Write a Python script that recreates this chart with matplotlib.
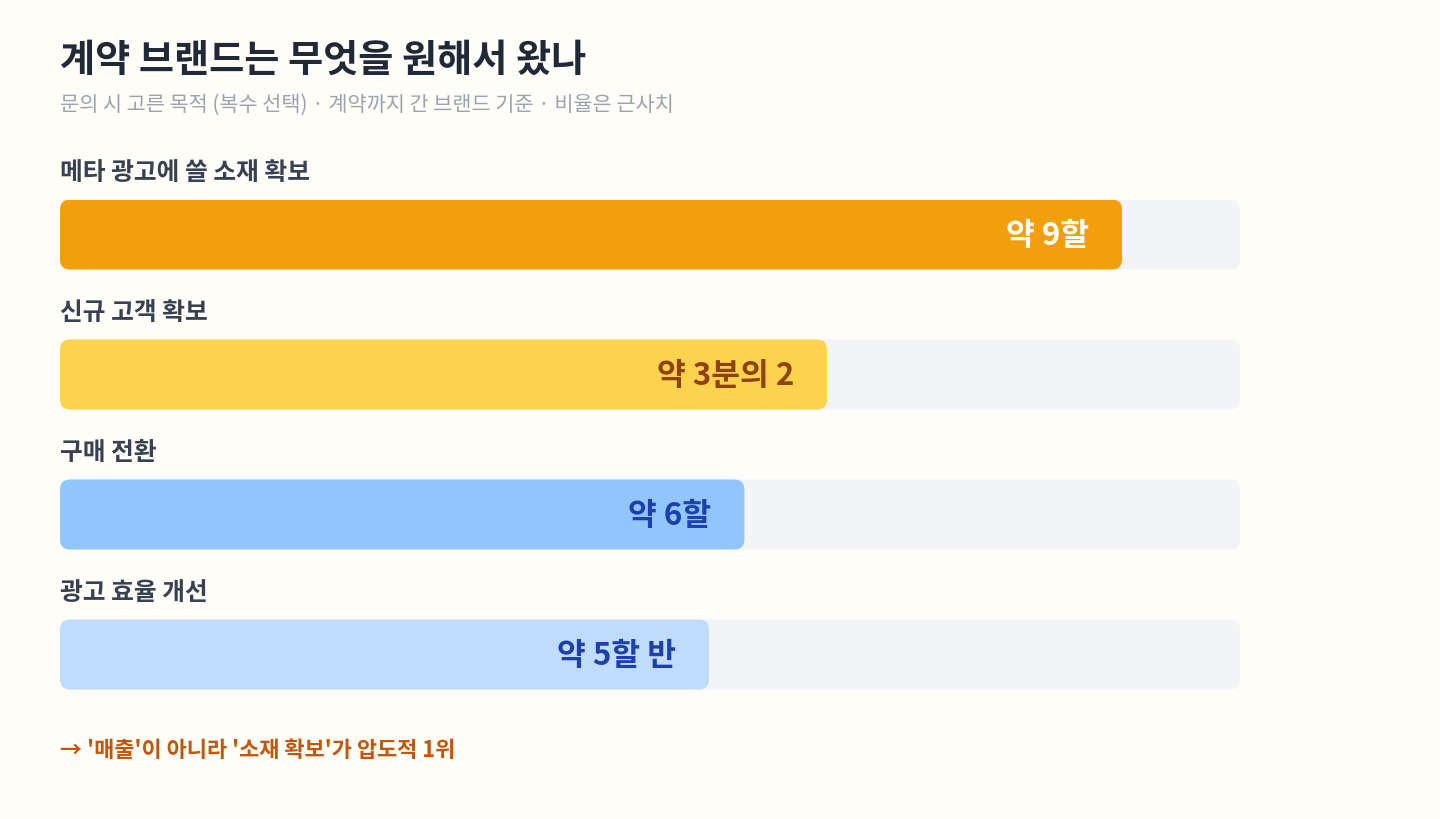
import matplotlib
matplotlib.use("Agg")
import matplotlib.pyplot as plt
from matplotlib.patches import FancyBboxPatch

plt.rcParams['font.family'] = ['Noto Sans CJK KR', 'DejaVu Sans']

# ---- data ----
categories = ["메타 광고에 쓸 소재 확보", "신규 고객 확보", "구매 전환", "광고 효율 개선"]
values = [90, 65, 58, 55]
value_labels = ["약 9할", "약 3분의 2", "약 6할", "약 5할 반"]
bar_colors = ["#F39F0D", "#FCD34D", "#93C5FD", "#BFDBFE"]
label_colors = ["#FFFFFF", "#92400E", "#1E40AF", "#1E40AF"]
title = "계약 브랜드는 무엇을 원해서 왔나"
subtitle = "문의 시 고른 목적 (복수 선택) · 계약까지 간 브랜드 기준 · 비율은 근사치"
footer = "→ '매출'이 아니라 '소재 확보'가 압도적 1위"

W, H = 1440, 820
BG = "#FFFDF7"
fig = plt.figure(figsize=(W / 100, H / 100), dpi=100, facecolor=BG)

# text layer (pixel coordinates)
tx = fig.add_axes([0, 0, 1, 1])
tx.set_xlim(0, W)
tx.set_ylim(H, 0)
tx.axis("off")
tx.set_facecolor(BG)

tx.text(60, 60, title, fontsize=27.5, fontweight="bold", color="#1F2937",
        ha="left", va="center")
tx.text(60, 105, subtitle, fontsize=15, color="#9CA3AF", ha="left", va="center")
tx.text(60, 751, footer, fontsize=15.8, fontweight="bold", color="#C2570C",
        ha="left", va="center")

# bar layer: track spans x 60..1240 px, rows every 140 px
left_px, right_px = 60, 1240
top_px, bottom_px = 200.5, 690.5
ax = fig.add_axes([left_px / W, 1 - bottom_px / H,
                   (right_px - left_px) / W, (bottom_px - top_px) / H])
ax.set_xlim(0, 100)
ax.set_ylim(bottom_px - top_px, 0)
ax.axis("off")
ax.patch.set_alpha(0)

row_gap = 140
bar_h = 70
px_per_x = (right_px - left_px) / 100.0
radius_px = 10
aspect = px_per_x  # y units are pixels

for i, (cat, v, vl, c, lc) in enumerate(zip(categories, values, value_labels,
                                            bar_colors, label_colors)):
    y0 = i * row_gap
    track = FancyBboxPatch((0, y0), 100, bar_h,
                           boxstyle=f"round,pad=0,rounding_size={radius_px / px_per_x}",
                           mutation_aspect=aspect, fc="#F3F4F6", ec="none")
    ax.add_patch(track)
    bar = FancyBboxPatch((0, y0), v, bar_h,
                         boxstyle=f"round,pad=0,rounding_size={radius_px / px_per_x}",
                         mutation_aspect=aspect, fc=c, ec="none")
    ax.add_patch(bar)
    ax.text(v - 33 / px_per_x, y0 + bar_h / 2 + 1, vl, fontsize=22.5, fontweight="bold",
            color=lc, ha="right", va="center")
    ax.text(0, y0 - 28, cat, fontsize=17.8, fontweight="bold", color="#374151",
            ha="left", va="center", clip_on=False)

fig.savefig("out.png", dpi=100, facecolor=BG)
